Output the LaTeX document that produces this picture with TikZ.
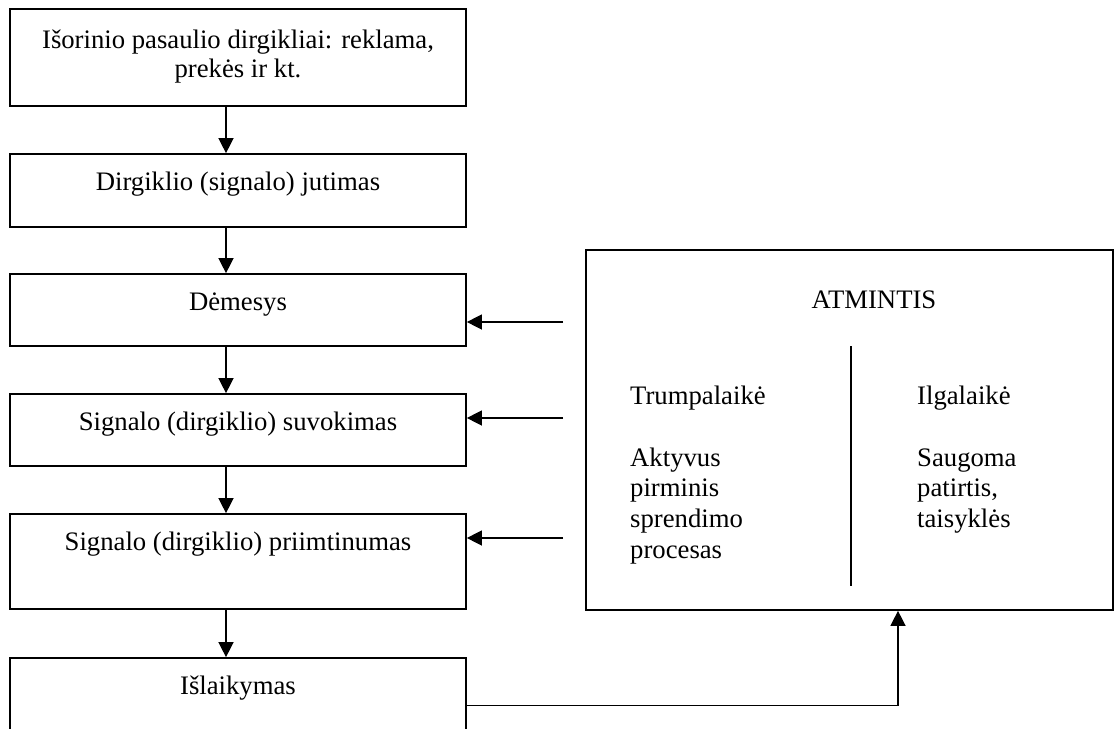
\documentclass[tikz,border=0pt]{standalone}
\usepackage{fontspec}
\setmainfont{Liberation Serif}
\usetikzlibrary{arrows.meta}
\begin{document}
\begin{tikzpicture}[x=1bp,y=-1bp,
  stage/.style={draw, line width=1.7bp, minimum width=456bp, inner sep=0pt},
  txt/.style={font=\fontsize{26.7bp}{30.7bp}\selectfont, inner sep=0pt},
  arr/.style={line width=1.4bp, -{Triangle[length=15bp,width=15bp]}},
]
\useasboundingbox (0,0) rectangle (1114,729);
\clip (0,0) rectangle (1114,729);

% stages of perception (left column)
\node[stage, minimum height=97bp] (b1) at (238,57.5) {};
\node[txt, align=center, anchor=north, font=\fontsize{26.7bp}{29bp}\selectfont] (l1) at (238,30) {Išorinio pasaulio dirgikliai: reklama,\\prekės ir kt.};

\node[stage, minimum height=73bp] (b2) at (238,190.5) {};
\node[txt, anchor=base] (l2) at ([yshift=-37bp]b2.north) {Dirgiklio (signalo) jutimas};

\node[stage, minimum height=72bp] (b3) at (238,310) {};
\node[txt, anchor=base] (l3) at ([yshift=-37bp]b3.north) {Dėmesys};

\node[stage, minimum height=72bp] (b4) at (238,430) {};
\node[txt, anchor=base] (l4) at ([yshift=-37bp]b4.north) {Signalo (dirgiklio) suvokimas};

\node[stage, minimum height=95bp] (b5) at (238,561.5) {};
\node[txt, anchor=base] (l5) at ([yshift=-37bp]b5.north) {Signalo (dirgiklio) priimtinumas};

\node[stage, minimum height=95bp] (b6) at (238,705.5) {};
\node[txt, anchor=base] (l6) at ([yshift=-37bp]b6.north) {Išlaikymas};

% memory block
\node[draw, line width=1.7bp, minimum width=527bp, minimum height=360bp, inner sep=0pt] (mem) at (849.5,430) {};
\node[txt, anchor=base] (memtitle) at (874,308) {ATMINTIS};
\coordinate (dtop) at (851,346);
\coordinate (dbot) at (851,586);
\draw[line width=1.4bp] (dtop) -- (dbot);
\node[txt, align=left, anchor=north west] (shortm) at (630,386) {Trumpalaikė\\[30.7bp]Aktyvus\\pirminis\\sprendimo\\procesas};
\node[txt, align=left, anchor=north west] (longm) at (917,386) {Ilgalaikė\\[30.7bp]Saugoma\\patirtis,\\taisyklės};

% downward flow
\foreach \a/\b in {b1/b2, b2/b3, b3/b4, b4/b5, b5/b6}
  \draw[arr] ([xshift=-12bp]\a.south) -- ([xshift=-12bp]\b.north);

% memory feeding the stages
\coordinate (m3) at (563,322);
\coordinate (m4) at (563,418);
\coordinate (m5) at (563,538);
\draw[arr] (m3) -- (m3 -| b3.east);
\draw[arr] (m4) -- (m4 -| b4.east);
\draw[arr] (m5) -- (m5 -| b5.east);

% retention back into memory
\draw[arr] (b6.east) -| ([xshift=48.5bp]mem.south);
\end{tikzpicture}
\end{document}
